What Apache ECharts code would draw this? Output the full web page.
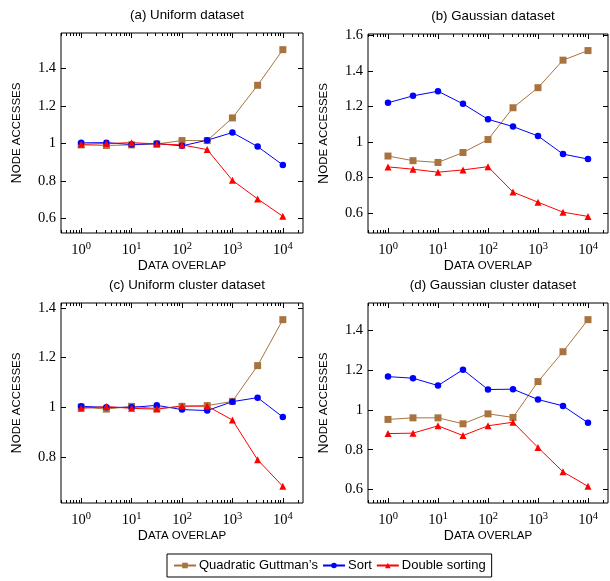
<!DOCTYPE html>
<html>
<head>
<meta charset="utf-8">
<title>Node accesses vs data overlap</title>
<script src="https://cdn.jsdelivr.net/npm/echarts@6/dist/echarts.min.js"></script>
<style>
html, body { margin: 0; padding: 0; background: #fff; }
#main { width: 610px; height: 581px; }
</style>
</head>
<body>
<div id="main"></div>
<script type="text/javascript">
// x positions: data overlap (half decades)
var overlap = [1, 3.162, 10, 31.62, 100, 316.2, 1000, 3162, 10000];

// (a) Uniform dataset
var uniQuad   = [0.993, 0.990, 0.993, 0.998, 1.016, 1.016, 1.137, 1.311, 1.501];
var uniSort   = [1.004, 1.005, 0.995, 1.000, 0.988, 1.018, 1.059, 0.984, 0.886];
var uniDouble = [0.996, 1.000, 1.005, 0.998, 0.993, 0.968, 0.804, 0.705, 0.612];

// (b) Gaussian dataset
var gauQuad   = [0.920, 0.894, 0.884, 0.940, 1.013, 1.192, 1.305, 1.460, 1.514];
var gauSort   = [1.220, 1.259, 1.285, 1.214, 1.127, 1.086, 1.033, 0.931, 0.903];
var gauDouble = [0.859, 0.846, 0.829, 0.842, 0.860, 0.717, 0.660, 0.604, 0.580];

// (c) Uniform cluster dataset
var uclQuad   = [1.001, 0.993, 1.004, 0.995, 1.004, 1.007, 1.024, 1.168, 1.353];
var uclSort   = [1.004, 1.000, 1.000, 1.008, 0.991, 0.987, 1.023, 1.039, 0.961];
var uclDouble = [0.996, 1.003, 0.996, 0.993, 1.005, 1.005, 0.949, 0.789, 0.682];

// (d) Gaussian cluster dataset
var gclQuad   = [0.952, 0.960, 0.960, 0.930, 0.980, 0.962, 1.142, 1.292, 1.453];
var gclSort   = [1.167, 1.159, 1.122, 1.202, 1.102, 1.104, 1.052, 1.020, 0.935];
var gclDouble = [0.881, 0.883, 0.920, 0.871, 0.920, 0.938, 0.811, 0.689, 0.616];

// tick labels
var xMajorTicks = [1, 10, 100, 1000, 10000];
var yTicksA = [0.6, 0.8, 1, 1.2, 1.4];
var yTicksB = [0.6, 0.8, 1, 1.2, 1.4, 1.6];
var yTicksC = [0.8, 1, 1.2, 1.4];
var yTicksD = [0.6, 0.8, 1, 1.2, 1.4];

var seriesNames = ['Quadratic Guttman\u2019s', 'Sort', 'Double sorting'];
var seriesColors = ['#A8733F', '#0000FF', '#FF0000'];
var seriesSymbols = ['rect', 'circle', 'triangle'];

var panels = [
	{ title: '(a) Uniform dataset', data: [uniQuad, uniSort, uniDouble], yTicks: yTicksA, left: 61, top: 33, width: 242, height: 200 },
	{ title: '(b) Gaussian dataset', data: [gauQuad, gauSort, gauDouble], yTicks: yTicksB, left: 368, top: 34, width: 240, height: 199 },
	{ title: '(c) Uniform cluster dataset', data: [uclQuad, uclSort, uclDouble], yTicks: yTicksC, left: 61, top: 303, width: 242, height: 200 },
	{ title: '(d) Gaussian cluster dataset', data: [gclQuad, gclSort, gclDouble], yTicks: yTicksD, left: 368, top: 303, width: 240, height: 200 }
];

// log axis limits like pgfplots (10% enlargement of 4 decades)
var xMin = Math.pow(10, -0.4), xMax = Math.pow(10, 4.4);

// minor ticks 2..9 per decade inside the range
var xMinorTicks = [];
for (var d = 0.1; d <= 10000; d *= 10) {
	for (var k = 2; k <= 9; k++) {
		var v = k * d;
		if (v > xMin && v < xMax) xMinorTicks.push(v);
	}
}

var serifFont = 'Liberation Serif';
var sansFont = 'Liberation Sans';

var titles = [], grids = [], xAxes = [], yAxes = [], series = [];

panels.forEach(function(p, i) {
	// y limits enlarged 10% of the data range
	var all = p.data[0].concat(p.data[1], p.data[2]);
	var lo = Math.min.apply(null, all), hi = Math.max.apply(null, all);
	var yMin = lo - 0.1 * (hi - lo), yMax = hi + 0.1 * (hi - lo);

	titles.push({
		text: p.title,
		left: p.left + p.width / 2,
		top: p.top - 29,
		textAlign: 'center',
		textStyle: { fontFamily: sansFont, fontSize: 13.3, fontWeight: 'normal', color: '#000' }
	});

	grids.push({
		left: p.left, top: p.top, width: p.width, height: p.height,
		show: true, borderColor: '#000', borderWidth: 1, backgroundColor: 'transparent'
	});

	var xBase = {
		type: 'log', gridIndex: i, min: xMin, max: xMax,
		axisLine: { show: false }, splitLine: { show: false },
		axisLabel: { show: false }
	};
	// bottom major ticks with labels
	xAxes.push(Object.assign({}, xBase, {
		position: 'bottom',
		name: '{a|D}{b|ATA OVERLAP}', nameLocation: 'middle', nameGap: 25,
		nameTextStyle: {
			rich: {
				a: { fontFamily: sansFont, fontSize: 14, color: '#000' },
				b: { fontFamily: sansFont, fontSize: 11.5, color: '#000' }
			}
		},
		axisTick: { inside: true, length: 5, customValues: xMajorTicks, lineStyle: { color: '#000' } },
		axisLabel: {
			show: true, margin: 8, customValues: xMajorTicks,
			formatter: function(v) { return '{b|10}{s|' + Math.round(Math.log10(v)) + '}'; },
			rich: {
				b: { fontFamily: serifFont, fontSize: 14.5, color: '#000', lineHeight: 17, verticalAlign: 'bottom' },
				s: { fontFamily: serifFont, fontSize: 10.5, color: '#000', lineHeight: 11, verticalAlign: 'top' }
			}
		}
	}));
	// bottom minor ticks
	xAxes.push(Object.assign({}, xBase, {
		position: 'bottom',
		axisTick: { inside: true, length: 3, customValues: xMinorTicks, lineStyle: { color: '#000' } }
	}));
	// top major / minor ticks
	xAxes.push(Object.assign({}, xBase, {
		position: 'top',
		axisTick: { inside: true, length: 5, customValues: xMajorTicks, lineStyle: { color: '#000' } }
	}));
	xAxes.push(Object.assign({}, xBase, {
		position: 'top',
		axisTick: { inside: true, length: 3, customValues: xMinorTicks, lineStyle: { color: '#000' } }
	}));

	// left axis with labels, right axis ticks only
	yAxes.push({
		type: 'value', gridIndex: i, position: 'left', min: yMin, max: yMax,
		name: '{a|N}{b|ODE ACCESSES}', nameLocation: 'middle', nameGap: 37, nameRotate: 90,
		nameTextStyle: {
			rich: {
				a: { fontFamily: sansFont, fontSize: 14, color: '#000' },
				b: { fontFamily: sansFont, fontSize: 11.5, color: '#000' }
			}
		},
		axisLine: { show: false }, splitLine: { show: false },
		axisTick: { inside: true, length: 5, customValues: p.yTicks, lineStyle: { color: '#000' } },
		axisLabel: {
			margin: 5, customValues: p.yTicks,
			fontFamily: serifFont, fontSize: 14.5, color: '#000',
			formatter: function(v) { return String(v); }
		}
	});
	yAxes.push({
		type: 'value', gridIndex: i, position: 'right', min: yMin, max: yMax,
		axisLine: { show: false }, splitLine: { show: false },
		axisTick: { inside: true, length: 5, customValues: p.yTicks, lineStyle: { color: '#000' } },
		axisLabel: { show: false }
	});

	for (var s = 0; s < 3; s++) {
		var vals = p.data[s];
		series.push({
			name: seriesNames[s],
			type: 'line',
			xAxisIndex: i * 4,
			yAxisIndex: i * 2,
			data: overlap.map(function(x, j) { return [x, vals[j]]; }),
			symbol: seriesSymbols[s],
			symbolSize: s === 1 ? 6.5 : 7,
			showAllSymbol: true,
			animation: false,
			lineStyle: { color: seriesColors[s], width: 1 },
			itemStyle: { color: seriesColors[s] }
		});
	}
});

var myChart = echarts.init(document.getElementById('main'), null, { renderer: 'canvas' });

var option = {
	backgroundColor: '#fff',
	animation: false,
	title: titles,
	grid: grids,
	xAxis: xAxes,
	yAxis: yAxes,
	legend: {
		data: seriesNames,
		left: 167, top: 554,
		orient: 'horizontal',
		borderColor: '#000', borderWidth: 1, borderRadius: 0,
		padding: [5, 6, 5, 6],
		itemGap: 4, itemWidth: 22, itemHeight: 7,
		textStyle: { fontFamily: sansFont, fontSize: 13, color: '#000', padding: [0, 0, 0, -2] }
	},
	series: series
};

myChart.setOption(option);
</script>
</body>
</html>
